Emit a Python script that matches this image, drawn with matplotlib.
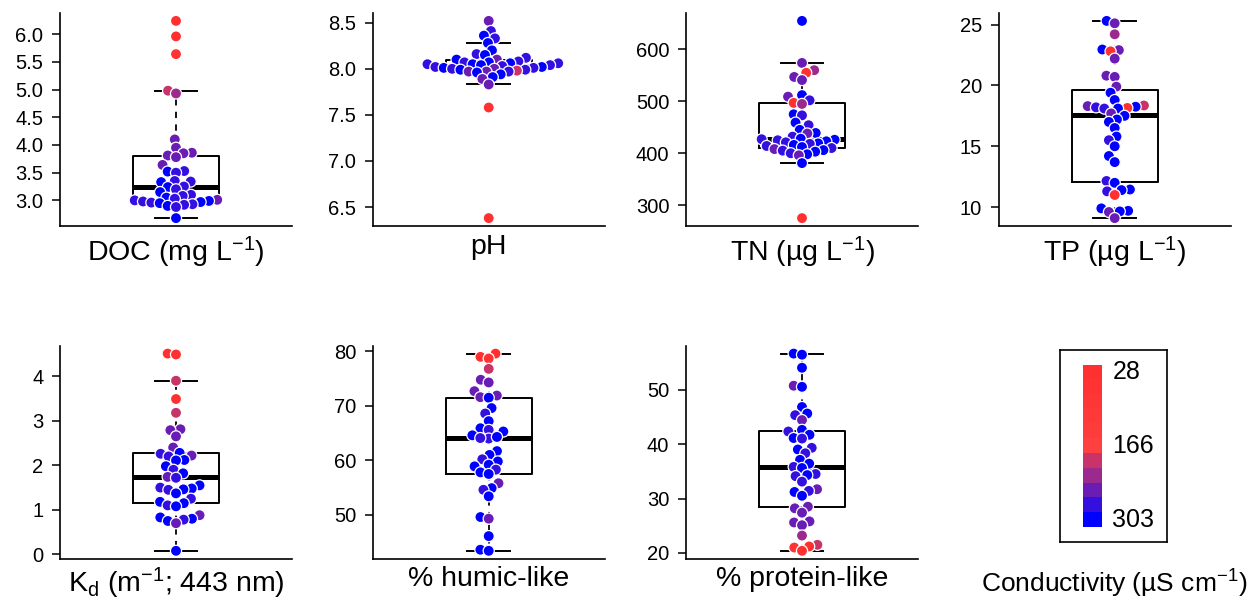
import numpy as np
import matplotlib
matplotlib.use("Agg")
import matplotlib.pyplot as plt
from matplotlib.colors import ListedColormap
from matplotlib.ticker import MultipleLocator

plt.rcParams['font.family'] = ['Liberation Sans', 'DejaVu Sans']
plt.rcParams['mathtext.fontset'] = 'custom'
plt.rcParams['mathtext.rm'] = 'Liberation Sans'
plt.rcParams['mathtext.it'] = 'Liberation Sans:italic'

# legend: conductivity bins, low (red) to high (blue)
cond_ticks = ['28', '166', '303']
cond_colors = ['#ff3030', '#ff3333', '#ff3636', '#ff3939', '#ff3c3c', '#ff4040',
               '#c8346a', '#9c2a8e', '#6a1db4', '#3410e0', '#0000ff']

doc = [6.24, 5.96, 5.64, 4.98, 4.93, 4.10, 3.95, 3.86, 3.85, 3.81, 3.78, 3.64, 3.53, 3.52,
       3.50, 3.35, 3.34, 3.33, 3.25, 3.24, 3.20, 3.15, 3.10, 3.08, 3.05, 3.03, 3.01, 3.00,
       2.99, 2.98, 2.97, 2.96, 2.95, 2.93, 2.92, 2.90, 2.88, 2.68]
doc_cond = [35, 40, 45, 205, 215, 250, 245, 250, 255, 245, 250, 250, 280, 300, 275, 280, 275,
            300, 280, 300, 275, 300, 275, 280, 300, 275, 245, 280, 300, 275, 300, 280, 300,
            275, 280, 300, 275, 300]

ph = [8.52, 8.41, 8.36, 8.33, 8.28, 8.20, 8.16, 8.15, 8.12, 8.10, 8.10, 8.08, 8.07, 8.07,
      8.06, 8.06, 8.05, 8.05, 8.04, 8.04, 8.03, 8.02, 8.02, 8.01, 8.01, 8.00, 8.00, 7.99,
      7.99, 7.97, 7.98, 7.97, 7.97, 7.96, 7.94, 7.91, 7.89, 7.83, 7.58, 6.38]
ph_cond = [245, 275, 300, 275, 300, 300, 275, 300, 275, 245, 300, 275, 300, 275, 300, 275,
           300, 275, 300, 275, 275, 300, 275, 275, 300, 245, 275, 300, 275, 245, 195, 275,
           250, 300, 300, 300, 245, 245, 40, 35]

tn = [655, 574, 560, 555, 547, 541, 509, 512, 502, 497, 495, 475, 473, 459, 454, 445, 439,
      438, 432, 428, 427, 426, 425, 423, 421, 419, 418, 416, 414, 412, 410, 408, 406, 405,
      403, 400, 398, 396, 381, 275]
tn_cond = [300, 250, 220, 40, 250, 245, 250, 300, 275, 35, 215, 300, 275, 300, 275, 300, 300,
           245, 275, 300, 275, 300, 275, 300, 275, 300, 275, 300, 275, 300, 275, 245, 300,
           275, 300, 275, 300, 250, 300, 40]

tp = [25.3, 25.1, 24.2, 22.95, 22.9, 22.8, 22.2, 20.8, 20.7, 19.9, 19.4, 18.8, 18.35, 18.3,
      18.25, 18.2, 18.15, 18.1, 18.1, 17.7, 17.5, 17.2, 17.0, 16.5, 15.8, 15.5, 15.0, 14.2,
      13.7, 12.15, 12.0, 11.45, 11.4, 11.3, 11.0, 9.9, 9.7, 9.65, 9.6, 9.1]
tp_cond = [300, 250, 215, 300, 250, 40, 250, 250, 245, 250, 300, 300, 195, 250, 300, 275, 35,
           300, 275, 250, 300, 300, 300, 300, 300, 275, 300, 300, 300, 275, 300, 300, 300,
           275, 40, 300, 300, 300, 245, 250]

kd = [4.51, 4.49, 3.90, 3.49, 3.18, 2.81, 2.79, 2.65, 2.40, 2.28, 2.26, 2.22, 2.20, 2.12,
      2.11, 1.98, 1.90, 1.82, 1.74, 1.72, 1.55, 1.50, 1.48, 1.46, 1.45, 1.37, 1.25, 1.18,
      1.15, 1.10, 1.08, 0.88, 0.83, 0.80, 0.78, 0.75, 0.70, 0.08]
kd_cond = [40, 35, 200, 40, 205, 250, 245, 250, 250, 300, 275, 245, 275, 300, 300, 300, 275,
           300, 245, 275, 300, 275, 300, 300, 275, 300, 275, 300, 300, 275, 300, 245, 300,
           300, 275, 300, 245, 300]

humic = [79.6, 79.0, 78.7, 76.8, 74.8, 74.3, 72.7, 71.9, 71.6, 71.5, 69.6, 68.6, 67.2, 65.9,
         65.6, 65.3, 64.6, 64.0, 64.3, 64.1, 61.7, 61.0, 60.2, 59.8, 59.2, 58.9, 58.3, 57.8,
         57.5, 55.8, 54.9, 54.6, 53.4, 49.6, 49.3, 46.1, 43.6, 43.4]
humic_cond = [35, 40, 60, 205, 245, 250, 250, 245, 250, 300, 300, 275, 300, 300, 275, 300,
              300, 275, 300, 275, 300, 300, 275, 300, 300, 300, 275, 300, 300, 250, 300, 275,
              300, 300, 245, 300, 300, 300]

protein = [56.6, 56.4, 54.0, 50.7, 50.5, 46.8, 45.6, 45.3, 44.4, 42.6, 42.3, 41.7, 41.1, 41.0,
           39.3, 39.0, 38.3, 37.1, 36.4, 35.8, 35.6, 34.5, 34.3, 34.1, 33.1, 31.7, 31.4, 31.2,
           30.5, 28.5, 28.2, 27.4, 25.8, 25.6, 25.1, 23.2, 21.5, 21.2, 21.0, 20.4]
protein_cond = [300, 300, 300, 245, 300, 300, 300, 275, 245, 300, 275, 300, 300, 275, 275,
                300, 275, 300, 300, 275, 300, 275, 300, 275, 275, 245, 275, 300, 300, 245,
                250, 245, 250, 245, 250, 215, 200, 35, 60, 40]

panels = [
    (doc, doc_cond, 'DOC (mg L$^{-1}$)', 0.5),
    (ph, ph_cond, 'pH', 0.5),
    (tn, tn_cond, 'TN (µg L$^{-1}$)', 100),
    (tp, tp_cond, 'TP (µg L$^{-1}$)', 5),
    (kd, kd_cond, 'K$_\\mathrm{d}$ (m$^{-1}$; 443 nm)', 1),
    (humic, humic_cond, '% humic-like', 10),
    (protein, protein_cond, '% protein-like', 10),
]


def box_stats(v):
    v = np.sort(np.asarray(v, float))
    n = len(v)
    med = np.median(v)
    q1 = np.median(v[:(n + 1) // 2])
    q3 = np.median(v[n // 2:])
    iqr = q3 - q1
    lo = v[v >= q1 - 1.5 * iqr].min()
    hi = v[v <= q3 + 1.5 * iqr].max()
    return dict(med=med, q1=q1, q3=q3, whislo=lo, whishi=hi, fliers=[])


def swarm(ypix, d):
    # simple beeswarm: place points in ascending order, nearest free slot to the centre
    xs = np.zeros(len(ypix))
    placed = []
    for i in np.argsort(ypix, kind='stable'):
        y = ypix[i]
        near = [(xs[j], ypix[j]) for j in placed if abs(ypix[j] - y) < d]
        cands = [0.0]
        for px, py in near:
            dx = np.sqrt(d ** 2 - (py - y) ** 2)
            cands += [px - dx, px + dx]
        cands.sort(key=abs)
        for c in cands:
            if all((c - px) ** 2 + (y - py) ** 2 >= d ** 2 - 1e-6 for px, py in near):
                xs[i] = c
                break
        placed.append(i)
    return xs


W, H = 1259, 602
fig = plt.figure(figsize=(W / 100, H / 100), dpi=100)
lefts = [60, 372.7, 686, 998.7]
bottoms = [226, 558.7]
aw, ah = 232, 213

for k, (vals, cond, label, step) in enumerate(panels):
    r, c = divmod(k, 4)
    ax = fig.add_axes([lefts[c] / W, 1 - bottoms[r] / H, aw / W, ah / H])
    vals = np.asarray(vals, float)
    rng = vals.max() - vals.min()
    ax.set_ylim(vals.min() - 0.04 * rng, vals.max() + 0.04 * rng)
    ax.set_xlim(-0.5, 0.5)

    ax.bxp([box_stats(vals)], positions=[0], widths=0.37, showfliers=False,
           capwidths=0.185, patch_artist=False,
           boxprops=dict(color='black', linewidth=1.4),
           medianprops=dict(color='black', linewidth=3.6, solid_capstyle='butt'),
           whiskerprops=dict(color='black', linewidth=1.3, linestyle=(0, (3.5, 3.5))),
           capprops=dict(color='black', linewidth=1.4), zorder=1)

    ypix = ax.transData.transform(np.column_stack([np.zeros_like(vals), vals]))[:, 1]
    xoff = swarm(ypix, 8.4) / aw
    bins = np.clip(np.round((np.asarray(cond) - 28) / 27.5), 0, 10).astype(int)
    cols = [cond_colors[b] for b in bins]
    ax.scatter(xoff, vals, s=64, c=cols, edgecolors='white', linewidths=0.9, zorder=3,
               clip_on=False)

    ax.yaxis.set_major_locator(MultipleLocator(step))
    ax.set_xticks([])
    ax.tick_params(axis='y', length=6, width=1.1, labelsize=14.5, pad=6)
    for s in ['top', 'right']:
        ax.spines[s].set_visible(False)
    for s in ['left', 'bottom']:
        ax.spines[s].set_linewidth(1.2)
    ax.set_xlabel(label, fontsize=20.5, labelpad=6 if r == 0 else 5)

# conductivity legend
lg = fig.add_axes([1060 / W, 1 - 542 / H, 107 / W, 192 / H])
lg.set_xticks([])
lg.set_yticks([])
for s in lg.spines.values():
    s.set_linewidth(1.2)
cb = fig.add_axes([1083 / W, 1 - 527.3 / H, 19 / W, 162.6 / H])
cb.imshow(np.arange(len(cond_colors)).reshape(-1, 1), cmap=ListedColormap(cond_colors),
          aspect='auto', interpolation='nearest')
cb.axis('off')
for lab, pos in zip(cond_ticks, [0, 5, 10]):
    cb.text(1.55, pos, lab, transform=cb.get_yaxis_transform(), va='center', ha='left',
            fontsize=18)
fig.text(1114 / W, 1 - 584 / H, 'Conductivity (µS cm$^{-1}$)', ha='center', va='center',
         fontsize=19)

fig.savefig('out.png', dpi=100)
